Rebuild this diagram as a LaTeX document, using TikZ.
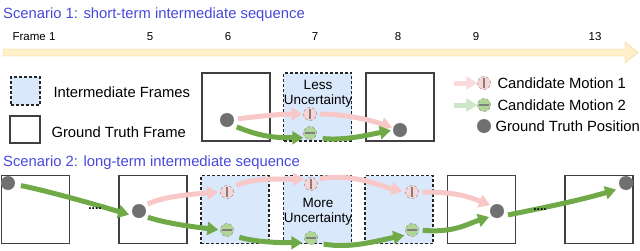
\documentclass[tikz,border=0pt]{standalone}
\usepackage{fontspec}
\setmainfont{Liberation Sans}
\usetikzlibrary{arrows.meta}
\definecolor{titleblue}{RGB}{72,72,220}
\definecolor{interblue}{RGB}{218,232,252}
\definecolor{framegray}{RGB}{64,64,64}
\definecolor{motionpink}{RGB}{248,200,200}
\definecolor{motiongreen}{RGB}{112,170,72}
\definecolor{markpink}{RGB}{250,212,212}
\definecolor{markgreen}{RGB}{176,214,150}
\definecolor{dotgray}{RGB}{112,112,112}
\definecolor{timefill}{RGB}{255,240,202}
\definecolor{timeedge}{RGB}{236,208,140}
\definecolor{legpink}{RGB}{250,218,218}
\definecolor{leggreen}{RGB}{205,230,200}

\begin{document}
\begin{tikzpicture}[x=1pt,y=-1pt,
  every node/.style={font=\fontsize{14.8}{17}\selectfont},
  gtbox/.style={draw=framegray, line width=1.3pt, minimum width=68pt, minimum height=68pt, inner sep=0pt},
  midbox/.style={draw=black!85, dash pattern=on 3pt off 2pt, fill=interblue, line width=1.3pt, minimum width=68pt, minimum height=68pt, inner sep=0pt},
  gtdot/.style={circle, fill=dotgray, draw=dotgray!60, densely dotted, minimum size=14pt, inner sep=0pt},
  candA/.style={circle, fill=markpink, draw=gray, densely dashed, minimum size=13pt, inner sep=0pt,
    path picture={\draw[solid,line width=1.2pt] ([yshift=-1.5pt]path picture bounding box.north) -- ([yshift=1.5pt]path picture bounding box.south);}},
  candB/.style={circle, fill=markgreen, draw=gray, densely dashed, minimum size=13pt, inner sep=0pt,
    path picture={\draw[solid,line width=1.2pt] ([xshift=1.5pt]path picture bounding box.west) -- ([xshift=-1.5pt]path picture bounding box.east);}},
  moveA/.style={draw=motionpink, line width=5pt, -{Triangle[length=11pt,width=13pt]}},
  moveB/.style={draw=motiongreen, line width=5pt, -{Triangle[length=11pt,width=13pt]}},
  framenum/.style={font=\fontsize{11.5}{13}\selectfont},
  scentitle/.style={text=titleblue, anchor=west, inner sep=0pt},
  gap/.style={font=\fontsize{12}{13}\selectfont\bfseries, inner sep=0pt}]
\useasboundingbox (0,0) rectangle (640,250);

% time line
\node[scentitle] (title1) at (3,15) {Scenario 1: short-term intermediate sequence};
\fill[timefill, draw=timeedge] (3,49) -- (625,49) -- (625,42) -- (638,52.5) -- (625,63) -- (625,56) -- (3,56) -- cycle;
\node[framenum] (f1) at (34,37) {Frame 1};
\node[framenum] (f5) at (150,37) {5};
\node[framenum] (f6) at (228,37) {6};
\node[framenum] (f7) at (315,37) {7};
\node[framenum] (f8) at (398,37) {8};
\node[framenum] (f9) at (476,37) {9};
\node[framenum] (f13) at (595,37) {13};

% legend
\node[midbox, minimum width=29pt, minimum height=28pt] (legmid) at (25.5,91) {};
\node[anchor=west] (legmidtxt) at (50,92) {Intermediate Frames};
\node[gtbox, minimum width=30pt, minimum height=27pt] (leggt) at (25,129.5) {};
\node[anchor=west] (leggttxt) at (48,132) {Ground Truth Frame};

\coordinate (lgA) at (454,83);
\coordinate (lgB) at (454,105);
\node[candA] (lmA) at (484,83) {};
\node[candB] (lmB) at (484,105) {};
\node[gtdot] (lmC) at (484,126) {};
\draw[moveA, draw=legpink] (lgA) -- (lmA);
\draw[moveB, draw=leggreen] (lgB) -- (lmB);
\node[anchor=west] (lmAtxt) at (494,83) {Candidate Motion 1};
\node[anchor=west] (lmBtxt) at (494,105) {Candidate Motion 2};
\node[anchor=west] (lmCtxt) at (492,126) {Ground Truth Position};

% scenario 1
\node[gtbox] (s1box1) at (236,107) {};
\node[midbox] (s1box2) at (317.5,107) {};
\node[gtbox] (s1box3) at (400,107) {};
\node[align=center, font=\fontsize{13.5}{15}\selectfont] (less) at (318,94) {Less\\Uncertainty};
\node[gtdot] (s1a) at (227,120) {};
\node[candA] (s1p) at (310,114) {};
\node[candB] (s1q) at (310,133) {};
\node[gtdot] (s1b) at (400,130) {};
\draw[moveA, shorten <=4pt, shorten >=1pt] (s1a) .. controls +(35,-4) and +(-30,0) .. (s1p);
\draw[moveA, shorten <=3pt, shorten >=1pt] (s1p) .. controls +(35,0) and +(-30,-10) .. (s1b);
\draw[moveB, shorten <=5pt, shorten >=2pt] (s1a.south east) .. controls +(30,12) and +(-30,0) .. (s1q.south west);
\draw[moveB, shorten <=8pt, shorten >=2pt] (s1q.south east) .. controls +(30,3) and +(-25,5) .. (s1b.west);

% scenario 2
\node[scentitle] (title2) at (3,163) {Scenario 2: long-term intermediate sequence};
\node[gtbox] (s2boxa) at (35.5,209.5) {};
\node[gtbox] (s2boxb) at (153,209.5) {};
\node[midbox] (s2boxc) at (235,209.5) {};
\node[midbox] (s2boxd) at (317.5,209.5) {};
\node[midbox] (s2boxe) at (399,209.5) {};
\node[gtbox] (s2boxf) at (481.5,209.5) {};
\node[gtbox] (s2boxg) at (599,209.5) {};
\node[align=center, font=\fontsize{13.5}{15}\selectfont] (more) at (318,212) {More\\Uncertainty};
\node[gtdot] (s2a) at (8,183) {};
\node[gtdot] (s2b) at (139,211) {};
\node[gtdot] (s2f) at (497,211) {};
\node[gtdot] (s2g) at (626,183) {};
\node[candA] (s2cp) at (227,192) {};
\node[candB] (s2cq) at (227,230) {};
\node[candA] (s2dp) at (311,184) {};
\node[candB] (s2dq) at (311,238) {};
\node[candA] (s2ep) at (412,192) {};
\node[candB] (s2eq) at (412,230) {};

\draw[moveB, shorten <=6pt, shorten >=5pt] (s2a) .. controls +(40,8) and +(-40,-12) .. (s2b.south west);
\node[gap] (gap1) at (95,209) {....};
\draw[moveA, shorten <=4pt, shorten >=2pt] (s2b.north east) .. controls +(20,-10) and +(-25,2) .. (s2cp.west);
\draw[moveB, shorten <=4pt, shorten >=2pt] (s2b.south east) .. controls +(25,8) and +(-25,-3) .. (s2cq.west);
\draw[moveA, shorten <=5pt, shorten >=2pt] (s2cp.north east) .. controls +(25,-10) and +(-30,0) .. (s2dp.north west);
\draw[moveB, shorten <=8pt, shorten >=4pt] (s2cq.south east) .. controls +(25,8) and +(-20,0) .. (s2dq.south west);
\draw[moveA, shorten <=4pt, shorten >=3pt] (s2dp.north east) .. controls +(40,-6) and +(-25,-6) .. (s2ep.west);
\draw[moveB, shorten <=8pt, shorten >=3pt] (s2dq.south east) .. controls +(35,6) and +(-30,6) .. (s2eq.south west);
\draw[moveA, shorten <=4pt, shorten >=2pt] (s2ep.east) .. controls +(35,0) and +(-25,-10) .. (s2f.north west);
\draw[moveB, shorten <=4pt, shorten >=3pt] (s2eq.east) .. controls +(35,3) and +(-25,8) .. (s2f.south west);
\draw[moveB, shorten <=6pt, shorten >=5pt] (s2f.south east) .. controls +(40,-8) and +(-40,12) .. (s2g.south west);
\node[gap] (gap2) at (540,210) {....};
\end{tikzpicture}
\end{document}
